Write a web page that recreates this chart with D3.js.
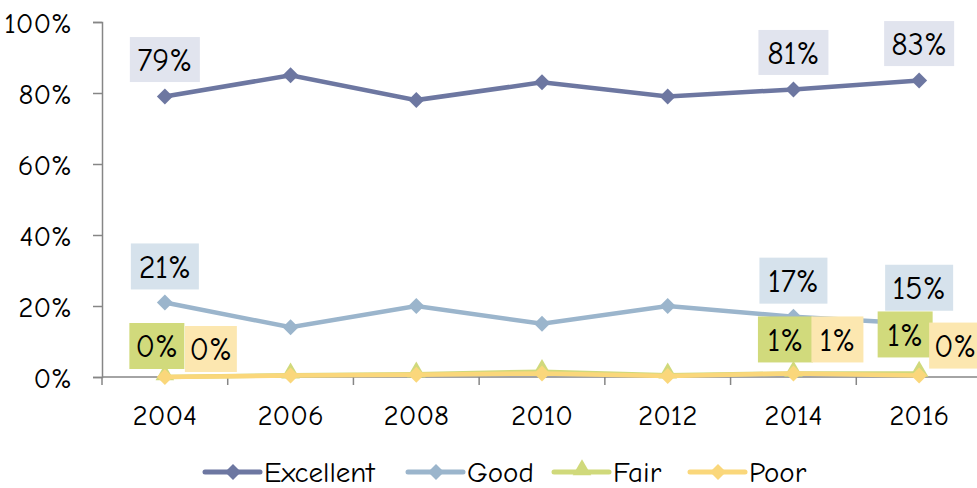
<!DOCTYPE html>
<html>
<head>
<meta charset="utf-8">
<script src="https://cdn.jsdelivr.net/npm/d3@7"></script>
<style>
  body { margin: 0; background: #fff; }
  text { font-family: "Comic Sans MS", "Comic Neue", "DejaVu Sans", sans-serif; fill: #000; }
</style>
</head>
<body>
<div id="chart"></div>
<script>
const years = ['2004', '2006', '2008', '2010', '2012', '2014', '2016'];
const excellent = [79, 85, 78, 83, 79, 81, 83.5];
const good = [21, 14, 20, 15, 20, 17, 15];
const fair = [0, 0.5, 0.8, 1.5, 0.5, 1, 1];
const poor = [0, 0.4, 0.6, 1, 0.3, 1, 0.4];
const yTicks = [0, 20, 40, 60, 80, 100];

// which points carry a label, and the text shown
const labelled = ['2004', '2014', '2016'];
const excellentLabels = ['79%', '81%', '83%'];
const goodLabels = ['21%', '17%', '15%'];
const fairLabels = ['0%', '1%', '1%'];
const poorLabels = ['0%', '1%', '0%'];

const width = 977;
const height = 488;

const series = [
    { name: 'Excellent', values: excellent, labels: excellentLabels, color: '#6d77a1', bg: '#e1e4ee', shape: 'diamond' },
    { name: 'Good', values: good, labels: goodLabels, color: '#9bb5cc', bg: '#d6e2ec', shape: 'diamond' },
    { name: 'Fair', values: fair, labels: fairLabels, color: '#d0d97b', bg: '#d1da7c', shape: 'triangle' },
    { name: 'Poor', values: poor, labels: poorLabels, color: '#fad77b', bg: '#fce7b0', shape: 'diamond' },
];

const svg = d3.select('#chart')
    .append('svg')
    .attr('width', width)
    .attr('height', height);

const xScale = d3.scaleBand().domain(years).range([102, 982]);
const yScale = d3.scaleLinear().domain([0, 100]).range([377, 22]);

// Y axis
const yAxis = svg.append('g')
    .attr('transform', 'translate(102,0)')
    .call(d3.axisLeft(yScale).tickValues(yTicks).tickSize(9).tickPadding(21).tickFormat(d => d + '%'));
yAxis.select('.domain').attr('stroke', '#868686').attr('stroke-width', 1.5);
yAxis.selectAll('.tick line').attr('stroke', '#868686').attr('stroke-width', 1.5);
yAxis.selectAll('.tick text').style('font-size', '29px').attr('dy', '0.35em');

// X axis: ticks at category boundaries
const xAxis = svg.append('g').attr('transform', 'translate(0,377)');
xAxis.append('line')
    .attr('x1', 102).attr('x2', 982)
    .attr('stroke', '#868686').attr('stroke-width', 1.5);
xAxis.selectAll('line.bound')
    .data(years)
    .join('line')
    .attr('class', 'bound')
    .attr('x1', d => xScale(d)).attr('x2', d => xScale(d))
    .attr('y1', 0).attr('y2', 8)
    .attr('stroke', '#868686').attr('stroke-width', 1.5);
xAxis.selectAll('text')
    .data(years)
    .join('text')
    .attr('x', d => xScale(d) + xScale.bandwidth() / 2)
    .attr('y', 38)
    .attr('dy', '0.35em')
    .attr('text-anchor', 'middle')
    .style('font-size', '29px')
    .text(d => d);

const cx = d => xScale(d) + xScale.bandwidth() / 2;

const line = d3.line()
    .x((d, i) => cx(years[i]))
    .y(d => yScale(d));

function markerPath(shape) {
    return shape === 'triangle'
        ? d3.symbol(d3.symbolTriangle, 150)()
        : 'M0,-8L8,0L0,8L-8,0Z';
}

// drawing order so the lower lines sit on top as in the original
const order = [series[1], series[0], series[2], series[3]];
order.forEach(s => {
    const g = svg.append('g');
    g.append('path')
        .datum(s.values)
        .attr('fill', 'none')
        .attr('stroke', s.color)
        .attr('stroke-width', 4.5)
        .attr('d', line);
    g.selectAll('path.m')
        .data(s.values)
        .join('path')
        .attr('class', 'm')
        .attr('transform', (d, i) => `translate(${cx(years[i])},${yScale(d) + (s.shape === 'triangle' ? -2 : 0)})`)
        .attr('d', markerPath(s.shape))
        .attr('fill', s.color);
});

// data labels: box offsets relative to the point [dx, dy]
const labelOffsets = {
    Excellent: [[0, -37], [0, -37], [0, -37]],
    Good: [[0, -36], [0, -36], [0, -36]],
    Fair: [[-8, -31], [-8, -34], [-14, -39]],
    Poor: [[46, -28], [44, -34], [36, -30]],
};
const boxSize = { Excellent: [70, 45], Good: [68, 46], Fair: [55, 46], Poor: [52, 46] };

series.forEach(s => {
    labelled.forEach((yr, k) => {
        const i = years.indexOf(yr);
        const [dx, dy] = labelOffsets[s.name][k];
        const [bw, bh] = boxSize[s.name];
        const x = cx(yr) + dx;
        const y = yScale(s.values[i]) + dy;
        const g = svg.append('g').attr('transform', `translate(${x},${y})`);
        g.append('rect')
            .attr('x', -bw / 2).attr('y', -bh / 2)
            .attr('width', bw).attr('height', bh)
            .attr('fill', s.bg);
        g.append('text')
            .attr('text-anchor', 'middle')
            .attr('dy', '0.35em')
            .style('font-size', '32px')
            .text(s.labels[k]);
    });
});

// Legend
const legendX = [205, 408, 554, 690];
const legend = svg.append('g').attr('transform', 'translate(0,472)');
series.forEach((s, i) => {
    const g = legend.append('g').attr('transform', `translate(${legendX[i]},0)`);
    g.append('line')
        .attr('x1', 0).attr('x2', 55)
        .attr('stroke', s.color).attr('stroke-width', 5)
        .attr('stroke-linecap', 'round');
    g.append('path')
        .attr('transform', `translate(28,${s.shape === 'triangle' ? -2 : 0})`)
        .attr('d', markerPath(s.shape))
        .attr('fill', s.color);
    g.append('text')
        .attr('x', 59)
        .attr('dy', '0.35em')
        .style('font-size', '29px')
        .text(s.name);
});
</script>
</body>
</html>
